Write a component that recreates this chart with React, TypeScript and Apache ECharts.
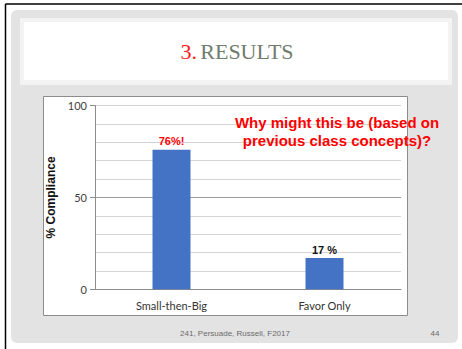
import React, { useEffect, useRef } from "react";
import * as echarts from "echarts";

const categories = ["Small-then-Big", "Favor Only"];
const values = [76, 17];
const valueLabels = ["76%!", "17 %"];
const labelColors = ["#ff0000", "#111111"];
const yTickLabels = ["0", "50", "100"];

export default function App() {
  const ref = useRef<HTMLDivElement>(null);
  useEffect(() => {
    if (!ref.current) return;
    const chart = echarts.init(ref.current, null, { renderer: "svg" });
    chart.setOption({
      animation: false,
      backgroundColor: "#ffffff",
      graphic: [
        { type: "line", z: -10, shape: { x1: 5.5, y1: 4, x2: 462, y2: 4 }, style: { stroke: "#000", lineWidth: 1.5 } },
        { type: "line", z: -10, shape: { x1: 5.5, y1: 4, x2: 5.5, y2: 349 }, style: { stroke: "#000", lineWidth: 1.5 } },
        { type: "rect", z: -10, shape: { x: 11, y: 10, width: 447, height: 333, r: 6 }, style: { fill: "#e3e3e3" } },
        { type: "rect", z: -9, shape: { x: 20, y: 18, width: 432, height: 67 }, style: { fill: "#f3f3f3" } },
        { type: "rect", z: -8, shape: { x: 24, y: 22, width: 424, height: 58 }, style: { fill: "#ffffff" } },
        {
          type: "text", z: 5, x: 237, y: 51,
          style: {
            text: "{a|3.} {b|RESULTS}", align: "center", verticalAlign: "middle",
            rich: {
              a: { fontFamily: "Liberation Serif", fontSize: 22, fill: "#ff1a1a" },
              b: { fontFamily: "Liberation Serif", fontSize: 22, fill: "#6f7d6d" },
            },
          },
        },
        { type: "rect", z: -8, shape: { x: 43.5, y: 96.5, width: 364, height: 219 }, style: { fill: "#ffffff", stroke: "#8c8c8c", lineWidth: 1 } },
        {
          type: "text", z: 50, x: 337, y: 131,
          style: {
            text: "Why might this be (based on\nprevious class concepts)?", align: "center", verticalAlign: "middle",
            fontFamily: "Liberation Sans", fontWeight: "bold", fontSize: 15, lineHeight: 18, fill: "#ff0000",
          },
        },
        {
          type: "text", z: 5, x: 235, y: 333,
          style: { text: "241, Persuade, Russell, F2017", align: "center", verticalAlign: "middle", fontFamily: "Liberation Sans", fontSize: 8, fill: "#6a6a6a" },
        },
        {
          type: "text", z: 5, x: 435, y: 333,
          style: { text: "44", align: "center", verticalAlign: "middle", fontFamily: "Liberation Sans", fontSize: 8, fill: "#6a6a6a" },
        },
      ],
      grid: { left: 95, right: 61, top: 105.6, bottom: 59.7, containLabel: false },
      xAxis: {
        type: "category",
        data: categories,
        axisLine: { lineStyle: { color: "#8c8c8c" } },
        axisTick: { show: false },
        axisLabel: { fontFamily: "Lato", fontSize: 11, color: "#333", margin: 11 },
      },
      yAxis: {
        type: "value",
        min: 0,
        max: 100,
        interval: 50,
        name: "% Compliance",
        nameLocation: "middle",
        nameRotate: 90,
        nameGap: 36,
        nameTextStyle: { fontFamily: "Liberation Sans", fontWeight: "bold", fontSize: 12, color: "#111" },
        axisLine: { show: true, lineStyle: { color: "#8c8c8c" } },
        axisTick: { show: true, length: 5, lineStyle: { color: "#8c8c8c" } },
        axisLabel: {
          fontFamily: "Lato", fontSize: 11, color: "#404040", margin: 8,
          formatter: (v: number) => (yTickLabels.includes(String(v)) ? String(v) : ""),
        },
        splitLine: { show: true, lineStyle: { color: ["#cfcfcf", "#9a9a9a", "#d4d4d4"] } },
        minorTick: { show: false, splitNumber: 5 },
        minorSplitLine: { show: true, lineStyle: { color: "#d4d4d4" } },
      },
      series: [
        {
          type: "bar",
          barWidth: 38,
          itemStyle: { color: "#4472c4" },
          data: values.map((v, i) => ({
            value: v,
            label: {
              show: true,
              position: "top",
              distance: 3,
              formatter: valueLabels[i],
              fontFamily: "Liberation Sans",
              fontWeight: "bold",
              fontSize: 11,
              color: labelColors[i],
            },
          })),
        },
      ],
    });
    return () => chart.dispose();
  }, []);
  return <div ref={ref} style={{ position: "fixed", left: 0, top: 0, width: 462, height: 349 }} />;
}
